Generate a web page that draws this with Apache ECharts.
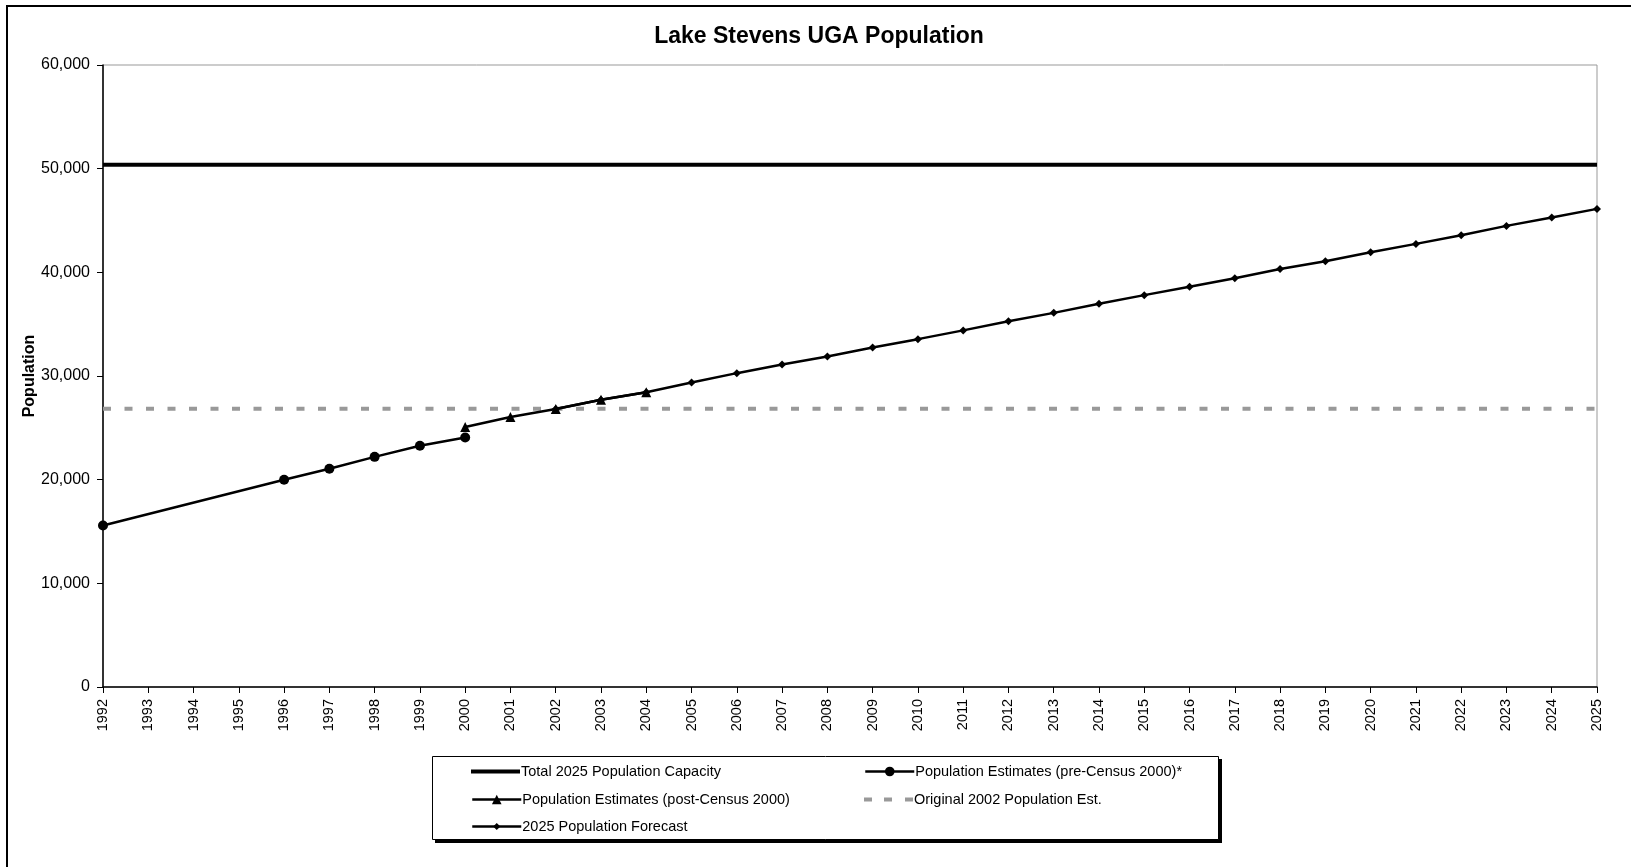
<!DOCTYPE html>
<html>
<head>
<meta charset="utf-8">
<title>Lake Stevens UGA Population</title>
<script src="https://cdn.jsdelivr.net/npm/echarts@6/dist/echarts.min.js"></script>
<style>
  html, body { margin: 0; padding: 0; background: #fff; }
  #chart { width: 1631px; height: 867px; }
</style>
</head>
<body>
<div id="chart"></div>
<script>
// Years on the category axis
const years = ['1992','1993','1994','1995','1996','1997','1998','1999','2000','2001','2002',
  '2003','2004','2005','2006','2007','2008','2009','2010','2011','2012','2013','2014','2015',
  '2016','2017','2018','2019','2020','2021','2022','2023','2024','2025'];

// Total 2025 population capacity (flat reference level)
const capacity = [['1992', 50380], ['2025', 50380]];

// Original 2002 population estimate (flat reference level)
const original2002 = [['1992', 26830], ['2025', 26830]];

// Population estimates before the 2000 census (1992–2000; gaps where no estimate exists)
const preCensus = [15580, null, null, null, 19990, 21050, 22200, 23270, 24070];

// Population estimates after the 2000 census (2000–2004)
const postCensusYears = ['2000', '2001', '2002', '2003', '2004'];
const postCensus = [25075, 26040, 26810, 27700, 28430];

// 2025 population forecast (2002–2025)
const forecastYears = ['2002','2003','2004','2005','2006','2007','2008','2009','2010','2011',
  '2012','2013','2014','2015','2016','2017','2018','2019','2020','2021','2022','2023','2024','2025'];
const forecast = [26810, 27700, 28430, 29370, 30275, 31105, 31875, 32745, 33555, 34400,
  35290, 36090, 36960, 37800, 38600, 39430, 40330, 41075, 41945, 42745, 43580, 44480, 45280, 46120];

const FONT = '"Liberation Sans", Arial, sans-serif';

const pair = (xs, vs) => xs.map((x, i) => [x, vs[i]]);

const chart = echarts.init(document.getElementById('chart'), null, { renderer: 'canvas' });

function legendItem(name, left, centerY, itemHeight, icon) {
  const item = {
    data: [{ name: name, lineStyle: { width: 2.5 } }],
    left: left,
    top: Math.round(centerY - 9),
    height: 18,
    orient: 'vertical',
    padding: 0,
    itemWidth: 49,
    itemHeight: itemHeight,
    itemGap: 0,
    itemTextGap: 0,
    selectedMode: false,
    z: 10,
    lineStyle: { width: 2.5 },
    textStyle: { fontFamily: FONT, fontSize: 14.5, color: '#000', padding: [0, 0, 0, -4] }
  };
  if (icon) item.icon = icon;
  return item;
}

const option = {
  backgroundColor: '#fff',
  animation: false,
  title: {
    text: 'Lake Stevens UGA Population',
    left: 814,
    top: 20,
    textAlign: 'center',
    textStyle: { fontFamily: FONT, fontSize: 23, fontWeight: 'bold', color: '#000' }
  },
  graphic: [
    {
      // outer chart frame
      type: 'rect',
      z: 0,
      silent: true,
      shape: { x: 7, y: 6, width: 1700, height: 1000 },
      style: { fill: 'none', stroke: '#000', lineWidth: 2 }
    },
    {
      // legend drop shadow
      type: 'rect',
      z: 1,
      silent: true,
      shape: { x: 435, y: 759, width: 787, height: 84 },
      style: { fill: '#000' }
    },
    {
      // legend box
      type: 'rect',
      z: 2,
      silent: true,
      shape: { x: 432.5, y: 756.5, width: 786, height: 83 },
      style: { fill: '#fff', stroke: '#000', lineWidth: 1 }
    }
  ],
  legend: [
    legendItem('Total 2025 Population Capacity', 471, 773, 4, 'rect'),
    legendItem('Population Estimates (pre-Census 2000)*', 864, 773, 12),
    legendItem('Population Estimates (post-Census 2000)', 471, 801, 12),
    legendItem('Original 2002 Population Est.', 864, 801, 4,
      'path://M0,0h8v4h-8zM20,0h8v4h-8zM41,0h8v4h-8z'),
    legendItem('2025 Population Forecast', 471, 828, 9)
  ],
  grid: {
    left: 103,
    top: 65,
    width: 1494,
    height: 622,
    show: true,
    borderColor: '#999',
    borderWidth: 1,
    backgroundColor: 'transparent'
  },
  xAxis: {
    type: 'category',
    data: years,
    boundaryGap: false,
    axisLine: { show: true, lineStyle: { color: '#000', width: 1.5 } },
    axisTick: { show: true, interval: 0, length: 6, lineStyle: { color: '#000', width: 1 } },
    axisLabel: {
      interval: 0,
      rotate: 90,
      margin: 12,
      fontFamily: FONT,
      fontSize: 14.5,
      color: '#000'
    },
    splitLine: { show: false }
  },
  yAxis: {
    type: 'value',
    min: 0,
    max: 60000,
    interval: 10000,
    name: 'Population',
    nameLocation: 'middle',
    nameGap: 65,
    nameMoveOverlap: false,
    nameTextStyle: { fontFamily: FONT, fontSize: 16, fontWeight: 'bold', color: '#000' },
    axisLine: { show: true, lineStyle: { color: '#000', width: 1.5 } },
    axisTick: { show: true, length: 6, lineStyle: { color: '#000', width: 1 } },
    axisLabel: {
      margin: 13,
      fontFamily: FONT,
      fontSize: 16,
      color: '#000',
      formatter: v => v.toLocaleString('en-US')
    },
    splitLine: { show: false }
  },
  series: [
    {
      name: 'Total 2025 Population Capacity',
      type: 'line',
      data: capacity,
      symbol: 'none',
      lineStyle: { color: '#000', width: 4 },
      itemStyle: { color: '#000' },
      z: 2
    },
    {
      name: 'Original 2002 Population Est.',
      type: 'line',
      data: original2002,
      symbol: 'none',
      lineStyle: { color: '#999', width: 4, type: [8, 13.5] },
      itemStyle: { color: '#999' },
      z: 2
    },
    {
      name: 'Population Estimates (pre-Census 2000)*',
      type: 'line',
      data: preCensus,
      connectNulls: true,
      symbol: 'circle',
      symbolSize: 10,
      showAllSymbol: true,
      lineStyle: { color: '#000', width: 2.5 },
      itemStyle: { color: '#000' },
      z: 3
    },
    {
      name: '2025 Population Forecast',
      type: 'line',
      data: pair(forecastYears, forecast),
      symbol: 'diamond',
      symbolSize: 8,
      showAllSymbol: true,
      lineStyle: { color: '#000', width: 2.5 },
      itemStyle: { color: '#000' },
      z: 3
    },
    {
      name: 'Population Estimates (post-Census 2000)',
      type: 'line',
      data: pair(postCensusYears, postCensus),
      symbol: 'triangle',
      symbolSize: 10,
      showAllSymbol: true,
      lineStyle: { color: '#000', width: 2.5 },
      itemStyle: { color: '#000' },
      z: 4
    }
  ]
};

chart.setOption(option);
</script>
</body>
</html>
